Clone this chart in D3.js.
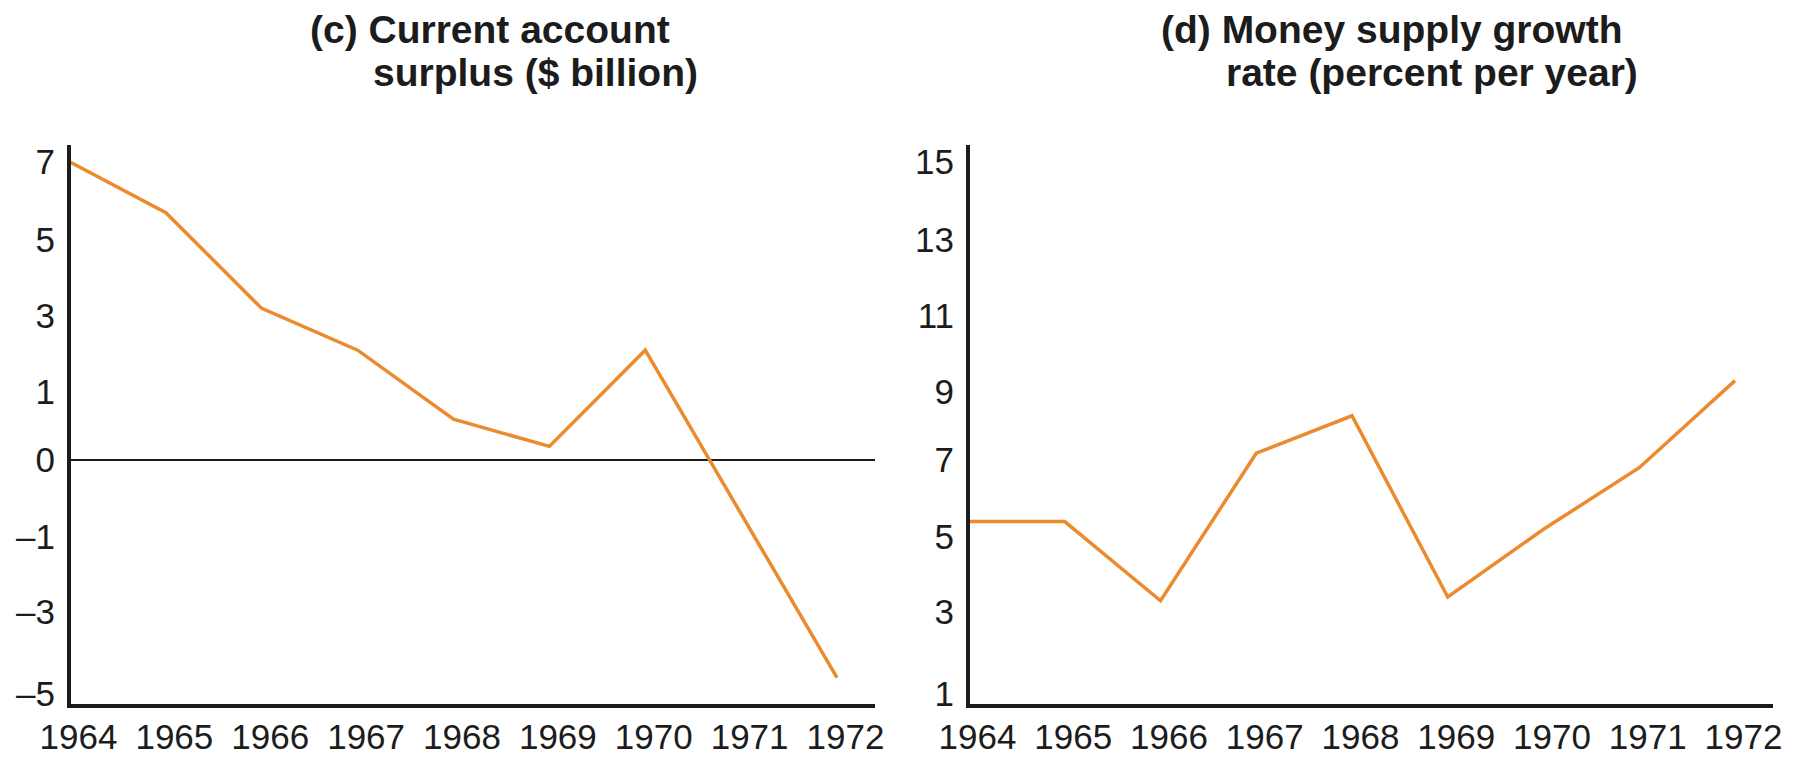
<!DOCTYPE html>
<html>
<head>
<meta charset="utf-8">
<script src="https://cdn.jsdelivr.net/npm/d3@7"></script>
<style>
  html, body { margin: 0; padding: 0; background: #fff; }
  svg { display: block; font-family: "Liberation Sans", Arial, Helvetica, sans-serif; }
</style>
</head>
<body>
<div id="chart"></div>
<script>
// Values
const years = [1964, 1965, 1966, 1967, 1968, 1969, 1970, 1971, 1972];
const currentAccount = [7.0, 5.7, 3.2, 2.1, 0.6, 0.2, 2.1, -0.7, -4.6];
const moneyGrowth = [5.4, 5.4, 3.3, 7.2, 8.3, 3.4, 5.2, 6.8, 9.3];

// Tick labels (the source draws them evenly spaced, not to linear scale)
const currentAccountTicks = [7, 5, 3, 1, 0, -1, -3, -5];
const moneyGrowthTicks = [15, 13, 11, 9, 7, 5, 3, 1];

const currentAccountTitle = ["(c) Current account", "surplus ($ billion)"];
const moneyGrowthTitle = ["(d) Money supply growth", "rate (percent per year)"];

const width = 1798;
const height = 757;
const lineColor = "#ec8a2e";
const inkColor = "#1c1c1c";

// vertical positions of the tick rows, shared by both panels
const rowTop = 162;
const rowPos = [162, 240, 316, 392, 460, 537, 612, 694];
const axisTop = 145;
const axisBottom = 706;

const svg = d3.select("#chart")
  .append("svg")
  .attr("width", width)
  .attr("height", height)
  .attr("viewBox", `0 0 ${width} ${height}`);

svg.append("rect").attr("width", width).attr("height", height).attr("fill", "#fff");

/**
 * Draw one panel
 */
function drawPanel({ left, right, values, ticks, title, titleX, zeroLine }) {
  const g = svg.append("g");

  const x = d3.scaleLinear()
    .domain([years[0], years[years.length - 1]])
    .range([left + 1, right - 38]);

  // polylinear scale: each labelled tick gets its own row
  const y = d3.scaleLinear()
    .domain(ticks)
    .range(rowPos);

  // title, two lines
  const t = g.append("text")
    .attr("font-size", 39)
    .attr("font-weight", "bold")
    .attr("fill", inkColor);
  t.append("tspan").attr("x", titleX[0]).attr("y", 43).text(title[0]);
  t.append("tspan").attr("x", titleX[1]).attr("y", 86).text(title[1]);

  // y tick labels
  g.append("g")
    .attr("transform", `translate(${left - 14},0)`)
    .call(d3.axisLeft(y)
      .tickValues(ticks)
      .tickSize(0)
      .tickPadding(0)
      .tickFormat(d => (d < 0 ? "\u2013" + Math.abs(d) : d)))
    .call(a => a.select(".domain").remove())
    .call(a => a.selectAll("text")
      .attr("font-size", 35)
      .attr("font-family", "'Liberation Sans', Arial, Helvetica, sans-serif")
      .attr("fill", inkColor));

  // x tick labels
  g.append("g")
    .attr("transform", `translate(0,${axisBottom})`)
    .call(d3.axisBottom(x)
      .tickValues(years)
      .tickSize(0)
      .tickPadding(18)
      .tickFormat(d3.format("d")))
    .call(a => a.select(".domain").remove())
    .call(a => a.selectAll("text")
      .attr("dx", 8)
      .attr("font-size", 35)
      .attr("font-family", "'Liberation Sans', Arial, Helvetica, sans-serif")
      .attr("fill", inkColor));

  // zero line
  if (zeroLine) {
    g.append("line")
      .attr("x1", left).attr("x2", right)
      .attr("y1", y(0)).attr("y2", y(0))
      .attr("stroke", inkColor)
      .attr("stroke-width", 2);
  }

  // data line
  g.append("path")
    .datum(years.map((yr, i) => [yr, values[i]]))
    .attr("fill", "none")
    .attr("stroke", lineColor)
    .attr("stroke-width", 3.5)
    .attr("stroke-linejoin", "miter")
    .attr("d", d3.line().x(d => x(d[0])).y(d => y(d[1])));

  // axes frame
  g.append("line")
    .attr("x1", left).attr("x2", left)
    .attr("y1", axisTop).attr("y2", axisBottom + 2)
    .attr("stroke", inkColor)
    .attr("stroke-width", 4);
  g.append("line")
    .attr("x1", left - 2).attr("x2", right)
    .attr("y1", axisBottom).attr("y2", axisBottom)
    .attr("stroke", inkColor)
    .attr("stroke-width", 4);
}

drawPanel({
  left: 69,
  right: 875,
  values: currentAccount,
  ticks: currentAccountTicks,
  title: currentAccountTitle,
  titleX: [310, 373],
  zeroLine: true
});

drawPanel({
  left: 968,
  right: 1773,
  values: moneyGrowth,
  ticks: moneyGrowthTicks,
  title: moneyGrowthTitle,
  titleX: [1161, 1226],
  zeroLine: false
});
</script>
</body>
</html>
